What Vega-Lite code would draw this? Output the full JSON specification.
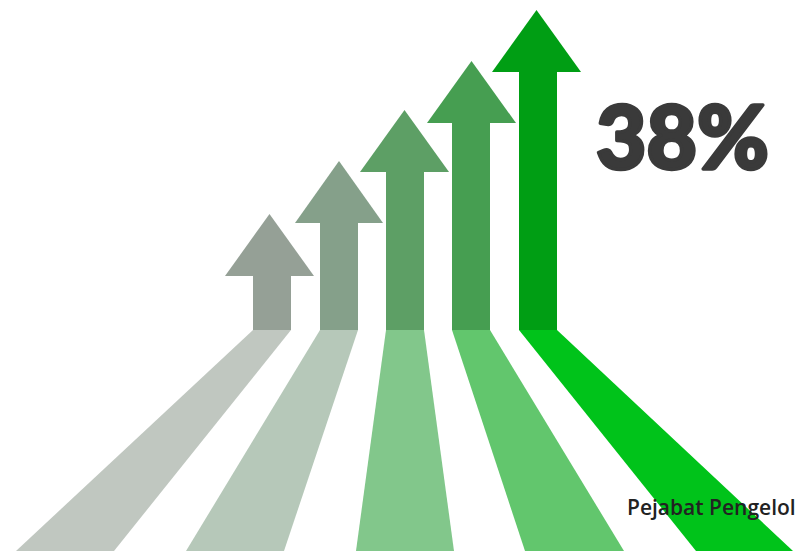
{
  "$schema": "https://vega.github.io/schema/vega-lite/v6.json",
  "autosize": {"type": "none"},
  "width": 795,
  "height": 551,
  "padding": 0,
  "background": "#ffffff",
  "config": {"view": {"stroke": null}},
  "layer": [
    {
      "data": {
        "values": [
          {"part": "road1", "tone": "r1", "y": 330, "x": 253, "x2": 291},
          {"part": "road1", "tone": "r1", "y": 551, "x": 16, "x2": 114},
          {"part": "road2", "tone": "r2", "y": 330, "x": 320, "x2": 358},
          {"part": "road2", "tone": "r2", "y": 551, "x": 186, "x2": 284},
          {"part": "road3", "tone": "r3", "y": 330, "x": 386, "x2": 424},
          {"part": "road3", "tone": "r3", "y": 551, "x": 356, "x2": 454},
          {"part": "road4", "tone": "r4", "y": 330, "x": 452, "x2": 490},
          {"part": "road4", "tone": "r4", "y": 551, "x": 525, "x2": 624},
          {"part": "road5", "tone": "r5", "y": 330, "x": 519, "x2": 557},
          {"part": "road5", "tone": "r5", "y": 551, "x": 696, "x2": 793},
          {"part": "shaft1", "tone": "a1", "y": 330, "x": 253, "x2": 291},
          {"part": "shaft1", "tone": "a1", "y": 275, "x": 253, "x2": 291},
          {"part": "head1", "tone": "a1", "y": 276, "x": 225, "x2": 314},
          {"part": "head1", "tone": "a1", "y": 214, "x": 269.5, "x2": 269.5},
          {"part": "shaft2", "tone": "a2", "y": 330, "x": 320, "x2": 358},
          {"part": "shaft2", "tone": "a2", "y": 222, "x": 320, "x2": 358},
          {"part": "head2", "tone": "a2", "y": 223, "x": 295, "x2": 383},
          {"part": "head2", "tone": "a2", "y": 161, "x": 339, "x2": 339},
          {"part": "shaft3", "tone": "a3", "y": 330, "x": 386, "x2": 424},
          {"part": "shaft3", "tone": "a3", "y": 171, "x": 386, "x2": 424},
          {"part": "head3", "tone": "a3", "y": 172, "x": 360, "x2": 449},
          {"part": "head3", "tone": "a3", "y": 110, "x": 404.5, "x2": 404.5},
          {"part": "shaft4", "tone": "a4", "y": 330, "x": 452, "x2": 490},
          {"part": "shaft4", "tone": "a4", "y": 122, "x": 452, "x2": 490},
          {"part": "head4", "tone": "a4", "y": 123, "x": 427, "x2": 516},
          {"part": "head4", "tone": "a4", "y": 61, "x": 471.5, "x2": 471.5},
          {"part": "shaft5", "tone": "a5", "y": 330, "x": 519, "x2": 557},
          {"part": "shaft5", "tone": "a5", "y": 71, "x": 519, "x2": 557},
          {"part": "head5", "tone": "a5", "y": 72, "x": 492, "x2": 581},
          {"part": "head5", "tone": "a5", "y": 10, "x": 536.5, "x2": 536.5}
        ]
      },
      "mark": {"type": "area", "orient": "horizontal", "interpolate": "linear"},
      "encoding": {
        "y": {"field": "y", "type": "quantitative", "scale": {"domain": [0, 551], "reverse": true, "nice": false, "zero": false}, "axis": null},
        "x": {"field": "x", "type": "quantitative", "scale": {"domain": [0, 795], "nice": false, "zero": false}, "axis": null},
        "x2": {"field": "x2"},
        "detail": {"field": "part", "type": "nominal"},
        "color": {
          "field": "tone", "type": "nominal", "legend": null,
          "scale": {
            "domain": ["r1", "r2", "r3", "r4", "r5", "a1", "a2", "a3", "a4", "a5"],
            "range": ["#c0c7c0", "#b6c8b9", "#82c78b", "#62c66d", "#00c31a", "#95a096", "#85a08a", "#5d9f65", "#469e51", "#009e14"]
          }
        }
      }
    },
    {
      "data": {"values": [{"label": "38%", "x": 596, "y": 169}]},
      "mark": {"type": "text", "align": "left", "baseline": "alphabetic", "font": "Lato", "fontWeight": 900, "fontSize": 87, "color": "#3a3a3a", "stroke": "#3a3a3a", "strokeWidth": 3.5, "strokeJoin": "round"},
      "encoding": {
        "x": {"field": "x", "type": "quantitative"},
        "y": {"field": "y", "type": "quantitative"},
        "text": {"field": "label"}
      }
    },
    {
      "data": {"values": [{"label": "Pejabat Pengelol", "x": 627, "y": 515}]},
      "mark": {"type": "text", "align": "left", "baseline": "alphabetic", "font": "Open Sans", "fontWeight": 600, "fontSize": 21, "color": "#222222"},
      "encoding": {
        "x": {"field": "x", "type": "quantitative"},
        "y": {"field": "y", "type": "quantitative"},
        "text": {"field": "label"}
      }
    }
  ]
}
